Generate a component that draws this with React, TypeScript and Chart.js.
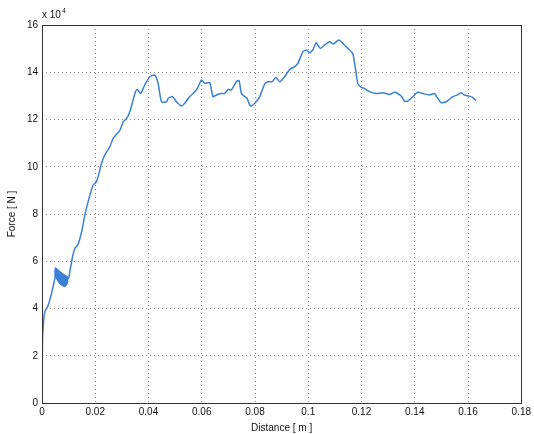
import React, { useEffect, useRef } from "react";
import { Chart, registerables } from "chart.js";

Chart.register(...registerables);

// Distance [m]
const distance: number[] = [
  0, 0.0001, 0.0002, 0.0005, 0.0008, 0.0013, 0.0018, 0.0025, 0.0035, 0.0045, 0.0049, 0.0051,
  0.0098, 0.0105, 0.0115, 0.0124, 0.0135, 0.015, 0.0161, 0.0175, 0.0192, 0.0205, 0.0224, 0.0236,
  0.0255, 0.0267, 0.0293, 0.0305, 0.0318, 0.033, 0.0349, 0.0357, 0.037, 0.0386, 0.0405, 0.0424,
  0.0436, 0.0449, 0.0468, 0.0474, 0.049, 0.0505, 0.0524, 0.0536, 0.0555, 0.058, 0.0599, 0.0611,
  0.063, 0.0642, 0.0655, 0.0674, 0.0686, 0.0699, 0.0711, 0.073, 0.074, 0.0749, 0.0761, 0.077,
  0.0783, 0.0799, 0.0818, 0.0836, 0.0849, 0.0865, 0.0878, 0.0893, 0.0911, 0.093, 0.0949, 0.0961,
  0.098, 0.0993, 0.1005, 0.1017, 0.103, 0.1045, 0.1061, 0.108, 0.1095, 0.1115, 0.113, 0.1149,
  0.1167, 0.1174, 0.1178, 0.1186, 0.1199, 0.1211, 0.123, 0.1255, 0.128, 0.1305, 0.1324, 0.1336,
  0.1349, 0.1361, 0.1374, 0.1393, 0.1411, 0.143, 0.1455, 0.1474, 0.1486, 0.1499, 0.1518, 0.1543,
  0.1561, 0.1574, 0.1586, 0.1605, 0.1617, 0.163,
];

// Force [N] in units of 10^4
const force: number[] = [
  0, 1.5, 2.7, 3.3, 3.7, 3.95, 4.0, 4.2, 4.6, 5.1, 5.3, 5.7,
  5.25, 5.6, 6.2, 6.56, 6.7, 7.3, 7.96, 8.6, 9.23, 9.37, 10.16, 10.5,
  10.85, 11.2, 11.55, 11.9, 12.05, 12.33, 13.1, 13.27, 13.1, 13.46, 13.81, 13.88,
  13.53, 12.75, 12.75, 12.9, 12.97, 12.75, 12.57, 12.69, 12.97, 13.25, 13.67, 13.53,
  13.56, 12.97, 13.04, 13.1, 13.1, 13.27, 13.25, 13.6, 13.65, 13.1, 12.97, 12.9,
  12.57, 12.69, 12.97, 13.5, 13.6, 13.6, 13.78, 13.6, 13.81, 14.12, 14.24, 14.38,
  14.87, 14.94, 14.83, 14.94, 15.25, 15.01, 15.15, 15.29, 15.2, 15.37, 15.22, 15.01,
  14.8, 14.38, 14.1, 13.53, 13.36, 13.32, 13.18, 13.1, 13.13, 13.06, 13.15, 13.1,
  12.99, 12.78, 12.78, 12.97, 13.15, 13.1, 13.04, 13.1, 12.9, 12.71, 12.75, 12.97,
  13.04, 13.13, 13.04, 12.99, 12.94, 12.8,
];

// Oscillation band (dense region) near 0.005-0.01 m
const bandDistance: number[] = [0.0049, 0.0055, 0.006, 0.0068, 0.0078, 0.0086, 0.0093, 0.0098];
const bandUpper: number[] = [5.72, 5.68, 5.62, 5.55, 5.47, 5.42, 5.37, 5.33];
const bandLower: number[] = [5.4, 5.25, 5.15, 5.03, 4.95, 4.93, 5.0, 5.15];

const xTicks: number[] = [0, 0.02, 0.04, 0.06, 0.08, 0.1, 0.12, 0.14, 0.16, 0.18];
const yTicks: number[] = [0, 2, 4, 6, 8, 10, 12, 14, 16];

const LINE = "rgb(58,128,214)";
const FONT = "'Liberation Sans', Arial, sans-serif";

export default function App() {
  const ref = useRef<HTMLCanvasElement | null>(null);

  useEffect(() => {
    document.body.style.margin = "0";
    const canvas = ref.current;
    if (!canvas) return;

    const boxPlugin = {
      id: "boxPlugin",
      afterDraw(chart: any) {
        const { ctx, chartArea } = chart;
        ctx.save();
        ctx.strokeStyle = "#333";
        ctx.lineWidth = 1;
        ctx.strokeRect(
          Math.round(chartArea.left) + 0.5,
          Math.round(chartArea.top) + 0.5,
          Math.round(chartArea.right - chartArea.left),
          Math.round(chartArea.bottom - chartArea.top)
        );
        // exponent label
        ctx.fillStyle = "#111";
        ctx.font = `10px ${FONT}`;
        ctx.textBaseline = "alphabetic";
        ctx.textAlign = "left";
        const x0 = chartArea.left;
        const y0 = chartArea.top - 7;
        ctx.fillText("x 10", x0, y0);
        const w = ctx.measureText("x 10").width;
        ctx.font = `7px ${FONT}`;
        ctx.fillText("4", x0 + w + 1, y0 - 5);
        ctx.restore();
      },
    };

    const chart = new Chart(canvas, {
      type: "line",
      data: {
        datasets: [
          {
            label: "band upper",
            data: bandDistance.map((x, i) => ({ x, y: bandUpper[i] })),
            borderColor: LINE,
            backgroundColor: LINE,
            borderWidth: 1,
            pointRadius: 0,
            tension: 0.3,
            fill: false,
          },
          {
            label: "band lower",
            data: bandDistance.map((x, i) => ({ x, y: bandLower[i] })),
            borderColor: LINE,
            backgroundColor: LINE,
            borderWidth: 1,
            pointRadius: 0,
            tension: 0.3,
            fill: "-1",
          },
          {
            label: "Force",
            data: distance.map((x, i) => ({ x, y: force[i] })),
            borderColor: LINE,
            borderWidth: 1.5,
            pointRadius: 0,
            tension: 0.2,
            fill: false,
          },
        ],
      },
      options: {
        animation: false,
        responsive: false,
        maintainAspectRatio: false,
        layout: { padding: { left: 0, top: 25, right: 12, bottom: 0 } },
        plugins: {
          legend: { display: false },
          tooltip: { enabled: false },
        },
        scales: {
          x: {
            type: "linear",
            min: 0,
            max: 0.18,
            afterBuildTicks: (scale: any) => {
              scale.ticks = xTicks.map((v) => ({ value: v }));
            },
            afterFit: (scale: any) => {
              scale.height = 31;
            },
            ticks: {
              color: "#111",
              font: { family: FONT, size: 10 },
              padding: 3,
              maxRotation: 0,
              callback: (v: any) => String(Number(Number(v).toFixed(2))),
            },
            grid: {
              color: "#8a8a8a",
              lineWidth: 1,
              drawTicks: false,
            },
            border: { display: false, dash: [1, 3] },
            title: {
              display: true,
              text: "Distance [ m ]",
              color: "#111",
              font: { family: FONT, size: 10 },
              padding: { top: 0, bottom: 0 },
            },
          },
          y: {
            type: "linear",
            min: 0,
            max: 16,
            afterBuildTicks: (scale: any) => {
              scale.ticks = yTicks.map((v) => ({ value: v }));
            },
            afterFit: (scale: any) => {
              scale.width = 42;
            },
            ticks: {
              color: "#111",
              font: { family: FONT, size: 10 },
              padding: 4,
              callback: (v: any) => String(v),
            },
            grid: {
              color: "#8a8a8a",
              lineWidth: 1,
              drawTicks: false,
            },
            border: { display: false, dash: [1, 3] },
            title: {
              display: true,
              text: "Force [ N ]",
              color: "#111",
              font: { family: FONT, size: 10 },
              padding: { top: 6, bottom: 0 },
            },
          },
        },
      },
      plugins: [boxPlugin],
    } as any);

    return () => {
      chart.destroy();
    };
  }, []);

  return (
    <div style={{ position: "absolute", left: 0, top: 0, width: 534, height: 434, background: "#fff" }}>
      <canvas ref={ref} width={534} height={434} style={{ display: "block", width: 534, height: 434 }} />
    </div>
  );
}
